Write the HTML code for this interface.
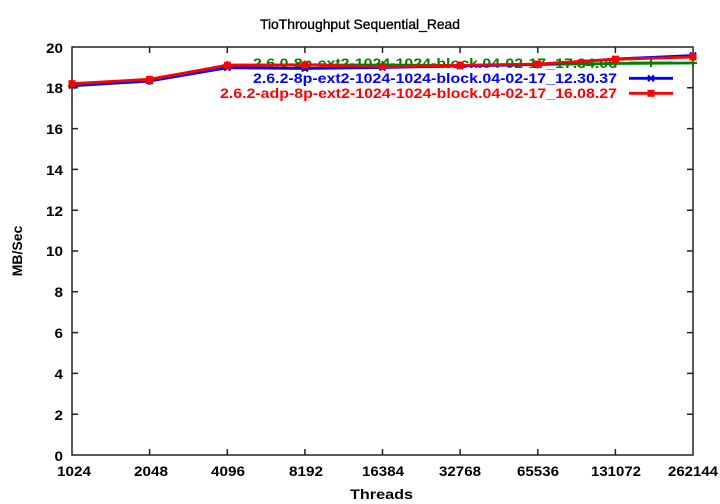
<!DOCTYPE html>
<html><head><meta charset="utf-8"><style>
html,body{margin:0;padding:0;background:#fff;}
svg{display:block;}
text{font-family:"Liberation Sans",Arial,sans-serif;}
</style></head><body>
<svg width="720" height="504" viewBox="0 0 720 504" xmlns="http://www.w3.org/2000/svg">
<rect width="720" height="504" fill="#fff"/>
<!-- title -->
<text x="260" y="29" font-size="14" textLength="200" lengthAdjust="spacingAndGlyphs" fill="#000" stroke="#000" stroke-width="0.35">TioThroughput Sequential_Read</text>
<!-- axes frame -->
<g stroke="#222" stroke-width="1.5" fill="none">
<rect x="72" y="47" width="621" height="408"/>
<path d="M72 414.2h6M72 373.4h6M72 332.6h6M72 291.8h6M72 251h6M72 210.2h6M72 169.4h6M72 128.6h6M72 87.8h6
M693 414.2h-6M693 373.4h-6M693 332.6h-6M693 291.8h-6M693 251h-6M693 210.2h-6M693 169.4h-6M693 128.6h-6M693 87.8h-6"/>
<path d="M149.6 455v-6M227.3 455v-6M304.9 455v-6M382.5 455v-6M460.1 455v-6M537.8 455v-6M615.4 455v-6
M149.6 47v6M227.3 47v6M304.9 47v6M382.5 47v6M460.1 47v6M537.8 47v6M615.4 47v6"/>
</g>
<!-- y labels -->
<g font-size="14" font-weight="bold" text-anchor="end" fill="#000">
<text x="63" y="461" textLength="8.5" lengthAdjust="spacingAndGlyphs">0</text>
<text x="63" y="420" textLength="8.5" lengthAdjust="spacingAndGlyphs">2</text>
<text x="63" y="379" textLength="8.5" lengthAdjust="spacingAndGlyphs">4</text>
<text x="63" y="338" textLength="8.5" lengthAdjust="spacingAndGlyphs">6</text>
<text x="63" y="297" textLength="8.5" lengthAdjust="spacingAndGlyphs">8</text>
<text x="63" y="256" textLength="17" lengthAdjust="spacingAndGlyphs">10</text>
<text x="63" y="216" textLength="17" lengthAdjust="spacingAndGlyphs">12</text>
<text x="63" y="175" textLength="17" lengthAdjust="spacingAndGlyphs">14</text>
<text x="63" y="134" textLength="17" lengthAdjust="spacingAndGlyphs">16</text>
<text x="63" y="93" textLength="17" lengthAdjust="spacingAndGlyphs">18</text>
<text x="63" y="53" textLength="17" lengthAdjust="spacingAndGlyphs">20</text>
</g>
<!-- x labels -->
<g font-size="14" font-weight="bold" fill="#000">
<text x="57" y="476" textLength="34" lengthAdjust="spacingAndGlyphs">1024</text>
<text x="134" y="476" textLength="34" lengthAdjust="spacingAndGlyphs">2048</text>
<text x="211" y="476" textLength="34" lengthAdjust="spacingAndGlyphs">4096</text>
<text x="289" y="476" textLength="34" lengthAdjust="spacingAndGlyphs">8192</text>
<text x="362" y="476" textLength="42" lengthAdjust="spacingAndGlyphs">16384</text>
<text x="439" y="476" textLength="42" lengthAdjust="spacingAndGlyphs">32768</text>
<text x="517" y="476" textLength="42" lengthAdjust="spacingAndGlyphs">65536</text>
<text x="591" y="476" textLength="50" lengthAdjust="spacingAndGlyphs">131072</text>
<text x="668" y="476" textLength="50" lengthAdjust="spacingAndGlyphs">262144</text>
</g>
<!-- axis titles -->
<text x="350" y="499" font-size="14" font-weight="bold" textLength="63" lengthAdjust="spacingAndGlyphs" fill="#000">Threads</text>
<text transform="translate(22,251) rotate(-90)" text-anchor="middle" font-size="14" font-weight="bold" fill="#000">MB/Sec</text>

<!-- GREEN series -->
<text x="253" y="68" font-size="14" font-weight="bold" fill="#008000" textLength="364" lengthAdjust="spacingAndGlyphs">2.6.0-8p-ext2-1024-1024-block.04-02-17_17.34.06</text>
<path d="M629 63H673" stroke="#008000" stroke-width="2.8"/>
<path d="M651 59v8M647 63h8" stroke="#008000" stroke-width="2"/>
<polyline fill="none" stroke="#008000" stroke-width="2.8" points="72,86 149.6,81 227.3,65 304.9,65 382.5,65 460.1,65.5 537.8,64.5 615.4,63.5 693,63"/>
<g stroke="#008000" stroke-width="2">
<path d="M72 82v8M68 86h8M149.6 77v8M145.6 81h8M227.3 61v8M223.3 65h8M304.9 61v8M300.9 65h8M382.5 61v8M378.5 65h8M460.1 61.5v8M456.1 65.5h8M537.8 60.5v8M533.8 64.5h8M615.4 59.5v8M611.4 63.5h8M693 59v8M689 63h8"/>
</g>

<!-- BLUE series -->
<text x="253" y="83" font-size="14" font-weight="bold" fill="#0000ff" textLength="364" lengthAdjust="spacingAndGlyphs">2.6.2-8p-ext2-1024-1024-block.04-02-17_12.30.37</text>
<path d="M629 78.3H673" stroke="#0000ff" stroke-width="2.8"/>
<path d="M648 75.3l6 6M648 81.3l6-6" stroke="#0000ff" stroke-width="2"/>
<polyline fill="none" stroke="#0000ff" stroke-width="2.8" points="72,85.5 149.6,81 227.3,67.7 304.9,68.5 382.5,67.5 460.1,66 537.8,64.5 615.4,59 693,55.5"/>
<g stroke="#0000ff" stroke-width="2">
<path d="M69 82.5l6 6M69 88.5l6-6M146.6 78l6 6M146.6 84l6-6M224.3 64.7l6 6M224.3 70.7l6-6M301.9 65.5l6 6M301.9 71.5l6-6M379.5 64.5l6 6M379.5 70.5l6-6M457.1 63l6 6M457.1 69l6-6M534.8 61.5l6 6M534.8 67.5l6-6M612.4 56l6 6M612.4 62l6-6M690 52.5l6 6M690 58.5l6-6"/>
</g>

<!-- RED series -->
<text x="220" y="98" font-size="14" font-weight="bold" fill="#ff0000" textLength="397" lengthAdjust="spacingAndGlyphs">2.6.2-adp-8p-ext2-1024-1024-block.04-02-17_16.08.27</text>
<path d="M629 93.3H673" stroke="#ff0000" stroke-width="2.8"/>
<rect x="647.5" y="89.8" width="7" height="7" fill="#ff0000"/>
<polyline fill="none" stroke="#ff0000" stroke-width="2.8" points="72,83.7 149.6,79.3 227.3,65.3 304.9,65 382.5,66.7 460.1,65.3 537.8,64 615.4,59.3 693,57"/>
<g fill="#ff0000">
<rect x="68.5" y="80.2" width="7" height="7"/>
<rect x="146.1" y="75.8" width="7" height="7"/>
<rect x="223.8" y="61.8" width="7" height="7"/>
<rect x="301.4" y="61.5" width="7" height="7"/>
<rect x="379" y="63.2" width="7" height="7"/>
<rect x="456.6" y="61.8" width="7" height="7"/>
<rect x="534.3" y="60.5" width="7" height="7"/>
<rect x="611.9" y="55.8" width="7" height="7"/>
<rect x="689.5" y="53.5" width="7" height="7"/>
</g>
</svg>
</body></html>
